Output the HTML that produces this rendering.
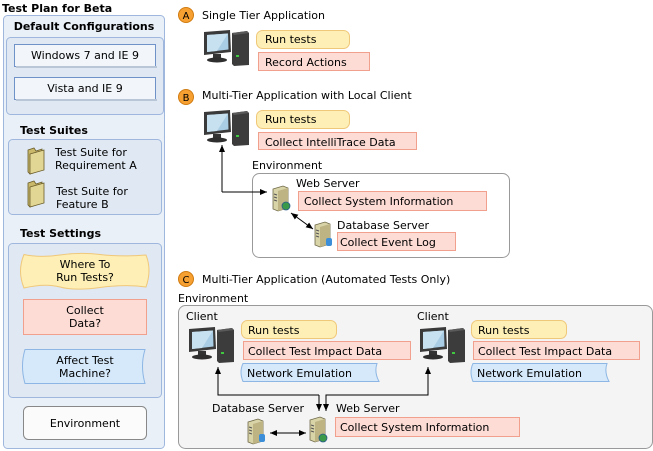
<!DOCTYPE html>
<html><head><meta charset="utf-8"><style>
html,body{margin:0;padding:0;background:#fff;}
svg{display:block;font-family:"DejaVu Sans","Liberation Sans",sans-serif;font-size:11px;}
.b{font-weight:bold;}
</style></head><body>
<svg width="653" height="451" viewBox="0 0 653 451" xmlns="http://www.w3.org/2000/svg">
<defs>
<g id="pc">
  <path d="M1,2 L27,0 L28,22 L1,25 Z" fill="#3a3a3a"/>
  <path d="M4,5 L25,3.5 L25.5,19.5 L4,22 Z" fill="#a9cde4"/>
  <path d="M4,5 L25,3.5 L14,21 L4,22Z" fill="#c7e1f0"/>
  <rect x="10" y="24" width="8" height="4" fill="#333"/>
  <ellipse cx="14" cy="30" rx="10" ry="2.5" fill="#2e2e2e"/>
  <path d="M29,3 L44,1 L46,3 L46,35 L31,36 L29,34 Z" fill="#3c3c3c"/>
  <path d="M29,3 L44,1 L46,3 L31,5 Z" fill="#5a5a5a"/>
  <rect x="33" y="25" width="3" height="2" fill="#3fc840"/>
</g>
<g id="srv">
  <path d="M0,3 L10,0 L15,2 L15,22 L5,25 L0,23 Z" fill="#d9d3a8" stroke="#6f6a4a" stroke-width="0.8"/>
  <path d="M5,5 L15,2 L15,22 L5,25Z" fill="#bdb383"/>
  <line x1="1" y1="8" x2="4" y2="9" stroke="#555" stroke-width="1"/>
  <line x1="1" y1="11" x2="4" y2="12" stroke="#555" stroke-width="1"/>
  <line x1="1" y1="14" x2="4" y2="15" stroke="#555" stroke-width="1"/>
</g>
<marker id="ah" markerWidth="8" markerHeight="8" refX="7" refY="4" orient="auto-start-reverse" markerUnits="userSpaceOnUse">
  <path d="M0,1 L7,4 L0,7 Z" fill="#000"/>
</marker>
</defs>

<!-- Left panel -->
<text x="2" y="12" class="b">Test Plan for Beta</text>
<rect x="3.5" y="15.5" width="161" height="433" rx="4" fill="#eaf0f8" stroke="#9fb7dd"/>
<text x="84" y="30" class="b" text-anchor="middle">Default Configurations</text>
<rect x="6.5" y="37.5" width="157" height="77" rx="4" fill="#dfe8f3" stroke="#9fb7dd"/>
<rect x="14.5" y="44.5" width="141" height="22" fill="#f2f6fb" stroke="#6f92c8"/>
<rect x="16" y="66" width="141" height="2" fill="#b9c6d8"/>
<text x="85" y="59" text-anchor="middle">Windows 7 and IE 9</text>
<rect x="14.5" y="77.5" width="141" height="22" fill="#f2f6fb" stroke="#6f92c8"/>
<rect x="16" y="99" width="141" height="2" fill="#b9c6d8"/>
<text x="85" y="92" text-anchor="middle">Vista and IE 9</text>

<text x="20" y="134" class="b">Test Suites</text>
<rect x="8.5" y="139.5" width="153" height="75" rx="4" fill="#dfe8f3" stroke="#9fb7dd"/>
<path d="M28,150 L34,148 L36,151 L42,149 L42,170 L30,174 L28,172Z" fill="#c9b86a" stroke="#6a5d2a" stroke-width="0.8"/>
<path d="M30,154 L44,150 L44,170 L30,174Z" fill="#e2d695" stroke="#6a5d2a" stroke-width="0.8"/>
<text x="55" y="156">Test Suite for</text>
<text x="55" y="169">Requirement A</text>
<path d="M28,183 L34,181 L36,184 L42,182 L42,203 L30,207 L28,205Z" fill="#c9b86a" stroke="#6a5d2a" stroke-width="0.8"/>
<path d="M30,187 L44,183 L44,203 L30,207Z" fill="#e2d695" stroke="#6a5d2a" stroke-width="0.8"/>
<text x="56" y="195">Test Suite for</text>
<text x="56" y="208">Feature B</text>

<text x="20" y="237" class="b">Test Settings</text>
<rect x="8.5" y="243.5" width="153" height="154" rx="4" fill="#dfe8f3" stroke="#9fb7dd"/>
<path d="M24,254.5 Q40,258 60,255 T100,254.5 T146,255 Q152,270 146,287 Q125,284 100,287.5 T60,287 T24,288 Q17,271 24,254.5Z" fill="#fdefb5" stroke="#f0c87a"/>
<text x="85" y="268" text-anchor="middle">Where To</text>
<text x="85" y="281" text-anchor="middle">Run Tests?</text>
<rect x="23.5" y="299.5" width="123" height="35" fill="#fddcd6" stroke="#f2a08e"/>
<text x="85" y="314" text-anchor="middle">Collect</text>
<text x="85" y="327" text-anchor="middle">Data?</text>
<path d="M25,349.5 L145,349.5 Q140,366 145,383.5 L25,383.5 Q20,366 25,349.5Z" fill="#d5e9fb" stroke="#8db6e4"/>
<text x="85" y="364" text-anchor="middle">Affect Test</text>
<text x="85" y="377" text-anchor="middle">Machine?</text>
<rect x="23.5" y="406.5" width="123" height="33" rx="5" fill="#fbfbfb" stroke="#888"/>
<text x="85" y="427" text-anchor="middle">Environment</text>

<!-- A -->
<circle cx="186" cy="15" r="7.5" fill="#f7a032" stroke="#d07b10"/>
<text x="186" y="19" text-anchor="middle" font-size="10">A</text>
<text x="202" y="19">Single Tier Application</text>
<use href="#pc" x="203" y="30"/>
<rect x="256.5" y="30.5" width="93" height="18" rx="6" fill="#fdefb5" stroke="#f0c87a"/>
<text x="265" y="43">Run tests</text>
<rect x="258.5" y="52.5" width="111" height="18" fill="#fddcd6" stroke="#f2a08e"/>
<text x="265" y="66">Record Actions</text>

<!-- B -->
<circle cx="186" cy="97" r="7.5" fill="#f7a032" stroke="#d07b10"/>
<text x="186" y="101" text-anchor="middle" font-size="10">B</text>
<text x="202" y="99">Multi-Tier Application with Local Client</text>
<use href="#pc" x="203" y="110"/>
<rect x="256.5" y="110.5" width="93" height="18" rx="6" fill="#fdefb5" stroke="#f0c87a"/>
<text x="265" y="123">Run tests</text>
<rect x="258.5" y="132.5" width="158" height="17" fill="#fddcd6" stroke="#f2a08e"/>
<text x="265" y="146">Collect IntelliTrace Data</text>
<text x="252" y="169">Environment</text>
<rect x="252.5" y="173.5" width="257" height="84" rx="7" fill="#fff" stroke="#999"/>
<text x="296" y="187">Web Server</text>
<use href="#srv" x="273" y="186"/>
<circle cx="286" cy="206" r="4" fill="#3a9a4a" stroke="#2a5a8a" stroke-width="0.8"/>
<rect x="298.5" y="191.5" width="188" height="19" fill="#fddcd6" stroke="#f2a08e"/>
<text x="304" y="205">Collect System Information</text>
<text x="337" y="229">Database Server</text>
<use href="#srv" x="315" y="222"/>
<rect x="326" y="238" width="6" height="8" rx="2" fill="#3c8ed8"/>
<rect x="337.5" y="232.5" width="118" height="18" fill="#fddcd6" stroke="#f2a08e"/>
<text x="340" y="246">Collect Event Log</text>
<polyline points="222,192 222,145" fill="none" stroke="#000" marker-end="url(#ah)"/>
<polyline points="222,192 267,192" fill="none" stroke="#000" marker-end="url(#ah)"/>
<line x1="291" y1="213" x2="313" y2="229" stroke="#000" marker-start="url(#ah)" marker-end="url(#ah)"/>

<!-- C -->
<circle cx="186" cy="279" r="7.5" fill="#f7a032" stroke="#d07b10"/>
<text x="186" y="283" text-anchor="middle" font-size="10">C</text>
<text x="202" y="283">Multi-Tier Application (Automated Tests Only)</text>
<text x="178" y="302">Environment</text>
<rect x="178.5" y="305.5" width="474" height="143" rx="7" fill="#f4f4f4" stroke="#999"/>
<text x="186" y="320">Client</text>
<use href="#pc" x="188" y="327"/>
<rect x="241.5" y="320.5" width="95" height="18" rx="6" fill="#fdefb5" stroke="#f0c87a"/>
<text x="248" y="334">Run tests</text>
<rect x="243.5" y="341.5" width="167" height="18" fill="#fddcd6" stroke="#f2a08e"/>
<text x="248" y="355">Collect Test Impact Data</text>
<path d="M243,363.5 L377,363.5 Q374,372 379,381.5 L243,381.5 Q239,372 243,363.5Z" fill="#d5e9fb" stroke="#8db6e4"/>
<text x="247" y="377">Network Emulation</text>

<text x="417" y="320">Client</text>
<use href="#pc" x="419" y="327"/>
<rect x="471.5" y="320.5" width="95" height="18" rx="6" fill="#fdefb5" stroke="#f0c87a"/>
<text x="478" y="334">Run tests</text>
<rect x="473.5" y="341.5" width="166" height="18" fill="#fddcd6" stroke="#f2a08e"/>
<text x="478" y="355">Collect Test Impact Data</text>
<path d="M473,363.5 L607,363.5 Q604,372 609,381.5 L473,381.5 Q469,372 473,363.5Z" fill="#d5e9fb" stroke="#8db6e4"/>
<text x="477" y="377">Network Emulation</text>

<text x="212" y="412">Database Server</text>
<use href="#srv" x="248" y="419"/>
<rect x="259" y="434" width="6" height="8" rx="2" fill="#3c8ed8"/>
<text x="336" y="412">Web Server</text>
<use href="#srv" x="310" y="417"/>
<circle cx="323" cy="438" r="4" fill="#3a9a4a" stroke="#2a5a8a" stroke-width="0.8"/>
<rect x="335.5" y="417.5" width="184" height="19" fill="#fddcd6" stroke="#f2a08e"/>
<text x="340" y="431">Collect System Information</text>

<polyline points="319,395 218,395 218,367" fill="none" stroke="#000" marker-end="url(#ah)"/>
<line x1="319" y1="395" x2="319" y2="411" stroke="#000" marker-end="url(#ah)"/>
<polyline points="326,411 326,395 428,395 428,367" fill="none" stroke="#000" marker-end="url(#ah)"/>
<polyline points="326,400 326,411" fill="none" stroke="#000" marker-end="url(#ah)"/>
<line x1="270" y1="433" x2="306" y2="433" stroke="#000" marker-start="url(#ah)" marker-end="url(#ah)"/>
</svg>
</body></html>
